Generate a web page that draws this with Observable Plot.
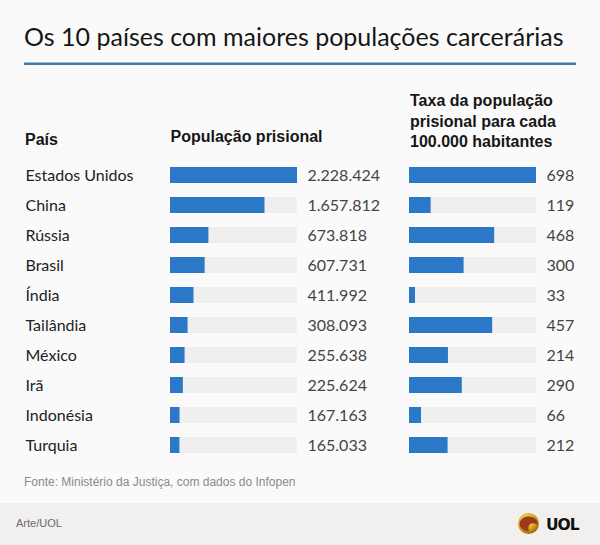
<!DOCTYPE html>
<html><head><meta charset="utf-8">
<script src="https://cdn.jsdelivr.net/npm/d3@7"></script>
<script src="https://cdn.jsdelivr.net/npm/@observablehq/plot@0.6"></script>
<style>
body{margin:0;background:#fafafa;}
#wrap{position:relative;width:600px;height:545px;background:#fafafa;overflow:hidden;}
#overlay{position:absolute;left:0;top:0;}
#pA{position:absolute;left:0;top:167px;}
#pB{position:absolute;left:400px;top:167px;}
</style></head><body>
<div id="wrap">
<svg id="overlay" width="600" height="545">
  <rect x="0" y="503" width="600" height="42" fill="#f2f0ee"/>
  <text x="24" y="46" font-family="Lato" font-size="25" fill="#161616">Os 10 países com maiores populações carcerárias</text>
  <rect x="24" y="62.5" width="552" height="2.5" fill="#3f7bab"/>
  <g font-family="Liberation Sans" font-weight="bold" font-size="16" fill="#161616">
    <text x="25" y="145">País</text>
    <text x="170.5" y="142">População prisional</text>
    <text x="410" y="106">Taxa da população</text>
    <text x="410" y="126.5">prisional para cada</text>
    <text x="410" y="147">100.000 habitantes</text>
  </g>
  <text x="24" y="485.5" font-family="Liberation Sans" font-size="12" fill="#8a8a8a">Fonte: Ministério da Justiça, com dados do Infopen</text>
  <text x="16" y="527" font-family="Liberation Sans" font-size="11" fill="#6a6a6a">Arte/UOL</text>
  <defs>
    <radialGradient id="gold" cx="0.4" cy="0.35" r="0.7">
      <stop offset="0" stop-color="#ffe27a"/>
      <stop offset="0.6" stop-color="#e0a722"/>
      <stop offset="1" stop-color="#8a5a0c"/>
    </radialGradient>
  </defs>
  <circle cx="528.5" cy="523.5" r="10.5" fill="url(#gold)"/>
  <path d="M519.5,524 C520,518 526,515.5 532,517 C536,518 538,521 537.5,525 C535,523 532,522.5 530,524 C528,526 528,529.5 529,531.5 C524,531 520,528.5 519.5,524 Z" fill="#9b3a1e"/>
  <text x="546" y="529.5" font-family="DejaVu Sans" font-weight="bold" font-size="15.5" letter-spacing="-1" fill="#111">UOL</text>
</svg>
<div id="pA"></div>
<div id="pB"></div>
</div>
<script>
const countries = ["Estados Unidos","China","Rússia","Brasil","Índia","Tailândia","México","Irã","Indonésia","Turquia"];
const prisonPop = [2228424,1657812,673818,607731,411992,308093,255638,225624,167163,165033];
const ratePer100k = [698,119,468,300,33,457,214,290,66,212];

const rows = countries.map((c,i)=>({country:c, pop:prisonPop[i], rate:ratePer100k[i]}));
const ptBR = d3.formatLocale({decimal:",", thousands:".", grouping:[3], currency:["R$",""]});
const fmt = ptBR.format(",d");
const maxPop = d3.max(prisonPop), maxRate = d3.max(ratePer100k);
const yOpt = {domain: countries, paddingInner: 14/30, paddingOuter: 0, axis: null};
const style = {background:"transparent", overflow:"visible", fontFamily:"Lato"};

const A = Plot.plot({
  width: 400, height: 286, marginLeft: 170, marginRight: 103, marginTop: 0, marginBottom: 0,
  x: {domain:[0,maxPop], axis:null}, y: yOpt, style,
  marks: [
    Plot.barX(rows, {y:"country", x1:0, x2:()=>maxPop, fill:"#efefef"}),
    Plot.barX(rows, {y:"country", x:"pop", fill:"#2b78c8"}),
    Plot.text(rows, {y:"country", text:"country", frameAnchor:"left", dx:-145, textAnchor:"start", fontSize:16, fill:"#222"}),
    Plot.text(rows, {y:"country", text:d=>fmt(d.pop), frameAnchor:"right", dx:10, textAnchor:"start", fontSize:16, fill:"#444"})
  ]
});
document.getElementById("pA").appendChild(A);

const B = Plot.plot({
  width: 200, height: 286, marginLeft: 9, marginRight: 64, marginTop: 0, marginBottom: 0,
  x: {domain:[0,maxRate], axis:null}, y: yOpt, style,
  marks: [
    Plot.barX(rows, {y:"country", x1:0, x2:()=>maxRate, fill:"#efefef"}),
    Plot.barX(rows, {y:"country", x:"rate", fill:"#2b78c8"}),
    Plot.text(rows, {y:"country", text:d=>fmt(d.rate), frameAnchor:"right", dx:10, textAnchor:"start", fontSize:16, fill:"#444"})
  ]
});
document.getElementById("pB").appendChild(B);
</script>
</body></html>
